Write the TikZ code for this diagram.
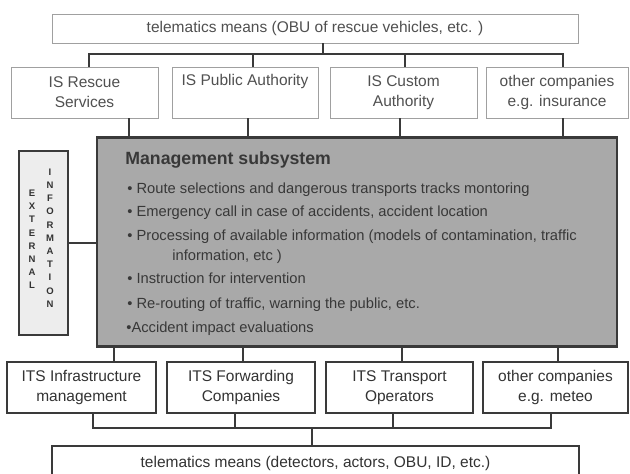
\documentclass[tikz,border=0pt]{standalone}
\usepackage{fontspec}
\setmainfont{Liberation Sans}
\usetikzlibrary{calc}

\newcommand\mgdot{\textbullet}

\begin{document}
\begin{tikzpicture}[x=1pt,y=-1pt,thick,
  box/.style={rectangle,inner sep=0pt,align=center,font=\fontsize{15.5}{20}\selectfont},
  top node/.style={box,draw=lightline,text=softtext,line width=0.9pt},
  low node/.style={box,draw=darkline,text=darktext,line width=1.5pt},
  mgmt node/.style={draw=darkline,fill=mgmtfill,line width=2.5pt,inner sep=0pt},
  ext node/.style={draw=darkline,fill=extfill,line width=2.5pt,inner sep=0pt},
  item/.style={anchor=base west,inner sep=0pt,text=mgmttext,font=\fontsize{14.7}{18}\selectfont},
  letters/.style={align=center,inner sep=0pt,text=darktext,font=\fontsize{9.5}{13.2}\selectfont\bfseries},
  link/.style={draw=darkline,line width=2.2pt}]
  \definecolor{lightline}{HTML}{A0A0A0}
  \definecolor{softtext}{HTML}{505050}
  \definecolor{darkline}{HTML}{3A3A3A}
  \definecolor{darktext}{HTML}{333333}
  \definecolor{mgmtfill}{HTML}{A9A9A9}
  \definecolor{mgmttext}{HTML}{383838}
  \definecolor{extfill}{HTML}{EDEDED}

  \useasboundingbox[fill=white] (0,0) rectangle (630,474);

  % upper level
  \node[top node,minimum width=526pt,minimum height=29pt] (obu) at (315,28.5) {telematics means (OBU of rescue vehicles, etc. )};
  \node[top node,minimum width=147pt,minimum height=51pt] (r1) at (84.5,92.5) {IS Rescue\\Services};
  \node[top node,minimum width=146pt,minimum height=51pt] (r2) at (245,92.5) {IS Public Authority\\\strut};
  \node[top node,minimum width=147pt,minimum height=51pt] (r3) at (403.5,92.5) {IS Custom\\Authority};
  \node[top node,minimum width=142pt,minimum height=51pt] (r4) at (557,92.5) {other companies\\e.g. insurance};

  % management and external information
  \node[mgmt node,minimum width=520pt,minimum height=209pt] (mgmt) at (357,242) {};
  \node[ext node,minimum width=49pt,minimum height=184pt] (ext) at (43.5,243) {};
  \node[letters] (extw) at (32,239.5) {E\\X\\T\\E\\R\\N\\A\\L};
  \node[letters] (infw) at (50,238) {I\\N\\F\\O\\R\\M\\A\\T\\I\\O\\N};

  \node[item,font=\fontsize{17.7}{20}\selectfont\bfseries] (title) at (125,164.5) {Management subsystem};
  \node[item] (i1) at (127,193) {\mgdot\ Route selections and dangerous transports tracks montoring};
  \node[item] (i2) at (127,216) {\mgdot\ Emergency call in case of accidents, accident location};
  \node[item] (i3) at (127,240) {\mgdot\ Processing of available information (models of contamination, traffic};
  \node[item] (i3b) at (172,260) {information, etc )};
  \node[item] (i4) at (127,283) {\mgdot\ Instruction for intervention};
  \node[item] (i5) at (127,308) {\mgdot\ Re-routing of traffic, warning the public, etc.};
  \node[item] (i6) at (126,332) {\mgdot Accident impact evaluations};

  % lower level
  \node[low node,minimum width=149pt,minimum height=51pt] (b1) at (81.5,387.5) {ITS Infrastructure\\management};
  \node[low node,minimum width=148pt,minimum height=51pt] (b2) at (241,387.5) {ITS Forwarding\\Companies};
  \node[low node,minimum width=147pt,minimum height=51pt] (b3) at (399.5,387.5) {ITS Transport\\Operators};
  \node[low node,minimum width=145pt,minimum height=51pt] (b4) at (555.5,387.5) {other companies\\e.g. meteo};
  \node[low node,minimum width=527pt,minimum height=34pt] (tel) at (315.5,463) {telematics means (detectors, actors, OBU, ID, etc.)};

  \coordinate (tb) at (0,54);
  \coordinate (bb) at (0,428);

  % upper bus
  \draw[link] ([xshift=4.5pt]r1.north) -- ([xshift=4.5pt]r1.north |- tb) -- ([xshift=6pt]r4.north |- tb) -- ([xshift=6pt]r4.north);
  \draw[link] ([xshift=8pt]obu.south) -- ([xshift=8pt]obu.south |- tb);
  \draw[link] ([xshift=8pt]r2.north) -- ([xshift=8pt]r2.north |- tb);
  \draw[link] ([xshift=1.5pt]r3.north) -- ([xshift=1.5pt]r3.north |- tb);

  % into management
  \draw[link] ([xshift=44.5pt]r1.south) -- ([xshift=44.5pt]r1.south |- mgmt.north);
  \draw[link] ([xshift=3pt]r2.south) -- ([xshift=3pt]r2.south |- mgmt.north);
  \draw[link] ([xshift=-3.5pt]r3.south) -- ([xshift=-3.5pt]r3.south |- mgmt.north);
  \draw[link] ([xshift=6pt]r4.south) -- ([xshift=6pt]r4.south |- mgmt.north);
  \draw[link] (ext.east) -- (ext.east -| mgmt.west);

  % out of management
  \draw[link] ([xshift=32.5pt]b1.north) -- ([xshift=32.5pt]b1.north |- mgmt.south);
  \draw[link] ([xshift=2pt]b2.north) -- ([xshift=2pt]b2.north |- mgmt.south);
  \draw[link] ([xshift=2.5pt]b3.north) -- ([xshift=2.5pt]b3.north |- mgmt.south);
  \draw[link] ([xshift=2.5pt]b4.north) -- ([xshift=2.5pt]b4.north |- mgmt.south);

  % lower bus
  \draw[link] ([xshift=11.5pt]b1.south) -- ([xshift=11.5pt]b1.south |- bb) -- ([xshift=-4.5pt]b4.south |- bb) -- ([xshift=-4.5pt]b4.south);
  \draw[link] ([xshift=-6pt]b2.south) -- ([xshift=-6pt]b2.south |- bb);
  \draw[link] ([xshift=-6.5pt]b3.south) -- ([xshift=-6.5pt]b3.south |- bb);
  \draw[link] ([xshift=-3.5pt]tel.north) -- ([xshift=-3.5pt]tel.north |- bb);
\end{tikzpicture}
\end{document}
